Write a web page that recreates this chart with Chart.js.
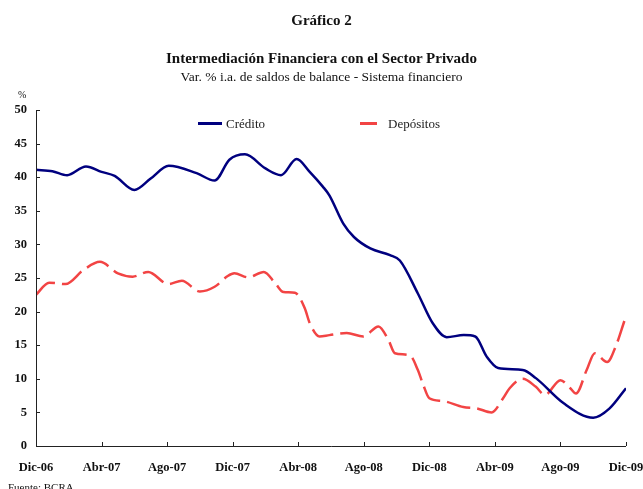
<!DOCTYPE html>
<html>
<head>
<meta charset="utf-8">
<script src="https://cdn.jsdelivr.net/npm/chart.js@4.4.0/dist/chart.umd.min.js"></script>
<style>
  body { margin: 0; background: #fff; font-family: 'Liberation Serif', serif; color: #111; }
  #wrap { position: relative; width: 643px; height: 489px; overflow: hidden; }
  canvas { position: absolute; left: 0; top: 0; }
  .t { position: absolute; left: 0; width: 643px; text-align: center; white-space: nowrap; }
  #g2 { top: 12px; font-size: 15px; font-weight: bold; }
  #tit { top: 50px; font-size: 15px; font-weight: bold; }
  #sub { top: 69px; font-size: 13.5px; }
  #pct { position: absolute; left: 18px; top: 89px; font-size: 10px; }
  #fuente { position: absolute; left: 8px; top: 481px; font-size: 11px; }
</style>
</head>
<body>
<div id="wrap">
  <canvas id="grafico" width="643" height="489"></canvas>
  <div class="t" id="g2">Gráfico 2</div>
  <div class="t" id="tit">Intermediación Financiera con el Sector Privado</div>
  <div class="t" id="sub">Var. % i.a. de saldos de balance - Sistema financiero</div>
  <div id="pct">%</div>
  <div id="fuente">Fuente: BCRA</div>
</div>
<script>
// meses desde Dic-06 (0) hasta Dic-09 (36)
const etiquetasX = ['Dic-06', 'Abr-07', 'Ago-07', 'Dic-07', 'Abr-08', 'Ago-08', 'Dic-08', 'Abr-09', 'Ago-09', 'Dic-09'];

const creditoMes = [0, 1.0, 1.9, 3.05, 4.0, 4.8, 6.0, 7.0, 8.1, 9.8, 10.9, 11.8, 12.75, 14.0, 14.95, 15.9, 16.7, 17.5, 17.9, 18.75, 19.4, 20.4, 21.6, 22.2, 23.3, 24.2, 25.06, 26.1, 26.8, 27.5, 28.2, 29.7, 30.5, 32.2, 34.0, 35.0, 36.0];
const creditoVal = [41.1, 40.9, 40.3, 41.6, 40.8, 40.2, 38.1, 39.8, 41.7, 40.6, 39.5, 42.6, 43.4, 41.3, 40.3, 42.7, 40.8, 38.6, 37.3, 33.1, 31.1, 29.4, 28.4, 27.6, 22.7, 18.3, 16.2, 16.5, 16.3, 13.3, 11.6, 11.3, 10.1, 6.35, 4.2, 5.6, 8.6];

const depositosMes = [0, 0.8, 1.8, 2.9, 3.9, 5.0, 5.9, 6.85, 8.07, 8.9, 10.0, 10.9, 11.7, 12.1, 12.95, 13.9, 14.6, 15.1, 15.8, 16.4, 16.7, 17.3, 17.9, 18.96, 19.97, 20.9, 21.5, 21.9, 22.8, 23.3, 23.6, 24.0, 24.8, 26.07, 26.9, 27.8, 28.5, 28.9, 29.7, 30.5, 31.05, 32.0, 32.6, 32.95, 33.6, 34.1, 34.85, 35.4, 35.9];
const depositosVal = [22.5, 24.3, 24.1, 26.2, 27.4, 25.7, 25.2, 25.9, 24.1, 24.6, 23.0, 23.7, 25.3, 25.7, 25.1, 25.9, 24.2, 22.9, 22.8, 20.5, 18.3, 16.3, 16.5, 16.8, 16.3, 17.8, 15.8, 13.8, 13.5, 11.3, 9.3, 7.1, 6.7, 5.8, 5.6, 5.0, 7.1, 8.6, 10.0, 8.8, 7.6, 9.8, 8.6, 7.8, 11.3, 13.8, 12.5, 15.0, 18.6];

const toPoints = (xs, ys) => xs.map((x, i) => ({ x: x, y: ys[i] }));

const FUENTE = "'Liberation Serif', serif";

// marcas de los ejes hacia adentro del grafico
const marcasInternas = {
  id: 'marcasInternas',
  afterDraw(chart) {
    const ctx = chart.ctx;
    const { left, right, top, bottom } = chart.chartArea;
    ctx.save();
    ctx.strokeStyle = '#222';
    ctx.lineWidth = 1;
    ctx.beginPath();
    ctx.moveTo(left + 0.5, top);
    ctx.lineTo(left + 0.5, bottom + 0.5);
    ctx.lineTo(right, bottom + 0.5);
    chart.scales.y.ticks.forEach(t => {
      const y = Math.round(chart.scales.y.getPixelForValue(t.value)) + 0.5;
      ctx.moveTo(left, y);
      ctx.lineTo(left + 4, y);
    });
    chart.scales.x.ticks.forEach(t => {
      const x = Math.round(chart.scales.x.getPixelForValue(t.value)) + 0.5;
      ctx.moveTo(x, bottom);
      ctx.lineTo(x, bottom - 4);
    });
    ctx.stroke();
    ctx.restore();
  }
};

// leyenda dentro del area del grafico
const leyenda = {
  id: 'leyenda',
  afterDraw(chart) {
    const ctx = chart.ctx;
    const items = [
      { x0: 198, x1: 222, tx: 226 },
      { x0: 360, x1: 377, tx: 388 }
    ];
    ctx.save();
    ctx.font = '13px ' + FUENTE;
    ctx.textBaseline = 'middle';
    chart.data.datasets.forEach((ds, i) => {
      const it = items[i];
      ctx.strokeStyle = ds.borderColor;
      ctx.lineWidth = 3;
      ctx.beginPath();
      ctx.moveTo(it.x0, 123.5);
      ctx.lineTo(it.x1, 123.5);
      ctx.stroke();
      ctx.fillStyle = '#222';
      ctx.fillText(ds.label, it.tx, 125);
    });
    ctx.restore();
  }
};

new Chart(document.getElementById('grafico'), {
  type: 'line',
  data: {
    datasets: [
      {
        label: 'Crédito',
        data: toPoints(creditoMes, creditoVal),
        borderColor: '#00007f',
        borderWidth: 2.5,
        pointRadius: 0,
        cubicInterpolationMode: 'monotone'
      },
      {
        label: 'Depósitos',
        data: toPoints(depositosMes, depositosVal),
        borderColor: '#f24444',
        borderWidth: 2.5,
        borderDash: [24, 7],
        pointRadius: 0,
        cubicInterpolationMode: 'monotone'
      }
    ]
  },
  options: {
    responsive: false,
    animation: false,
    layout: { padding: { top: 110, right: 0, left: 0, bottom: 0 } },
    plugins: {
      legend: { display: false },
      title: { display: false },
      tooltip: { enabled: false }
    },
    scales: {
      x: {
        type: 'linear',
        min: 0,
        max: 36,
        afterFit: s => { s.height = 43; s.paddingRight = 17; s.paddingLeft = 0; },
        grid: { display: false, drawTicks: false },
        border: { display: false },
        ticks: {
          stepSize: 4,
          autoSkip: false,
          maxRotation: 0,
          padding: 14,
          color: '#111',
          font: { family: FUENTE, size: 12.5, weight: 'bold' },
          callback: v => etiquetasX[v / 4]
        }
      },
      y: {
        min: 0,
        max: 50,
        afterFit: s => { s.width = 36; },
        grid: { display: false, drawTicks: false },
        border: { display: false },
        ticks: {
          stepSize: 5,
          padding: 9,
          color: '#111',
          font: { family: FUENTE, size: 12.5, weight: 'bold' }
        }
      }
    }
  },
  plugins: [marcasInternas, leyenda]
});
</script>
</body>
</html>
